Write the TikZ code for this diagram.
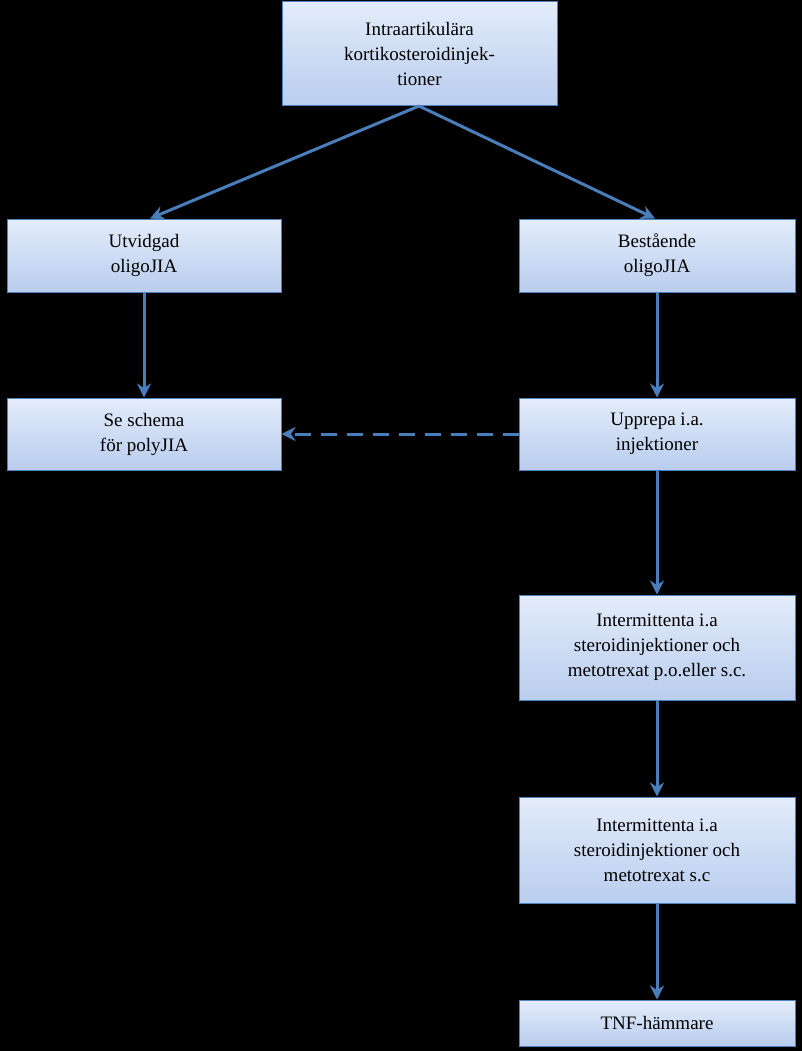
\documentclass[tikz,border=0pt]{standalone}
\usepackage{fontspec}
\setmainfont{Liberation Serif}
\usetikzlibrary{positioning,arrows.meta}
\definecolor{boxline}{HTML}{4F81BD}
\definecolor{arrowblue}{HTML}{4A7EBB}
\definecolor{boxtop}{HTML}{E3ECFA}
\definecolor{boxbot}{HTML}{B9CDEE}
\tikzset{
  stage/.style={draw=boxline, line width=1pt, top color=boxtop, bottom color=boxbot,
    minimum width=274pt, align=center, inner sep=2pt,
    font=\fontsize{19}{25}\selectfont},
  flow/.style={draw=arrowblue, line width=3pt, -{Stealth[length=14pt,width=14pt]}},
}
\begin{document}
\begin{tikzpicture}[x=1pt,y=-1pt]
	\fill[black] (0,0) rectangle (802,1051);
	\useasboundingbox (0,0) rectangle (802,1051);
	\node[stage, minimum width=275pt, minimum height=104pt] (intra) at (419.5,54) {Intraartikulära\\kortikosteroidinjek-\\tioner};
	\node[stage, minimum height=73pt] (utv) at (144,255.5) {Utvidgad\\oligoJIA};
	\node[stage, minimum width=276pt, minimum height=73pt] (best) at (657,255.5) {Bestående\\oligoJIA};
	\node[stage, minimum height=72pt] (poly) at (144,434) {Se schema\\för polyJIA};
	\node[stage, minimum width=276pt, minimum height=72pt] (upp) at (657,434) {Upprepa i.a.\\injektioner};
	\node[stage, minimum width=276pt, minimum height=105pt] (int1) at (657,647.5) {Intermittenta i.a\\steroidinjektioner och\\metotrexat p.o.eller s.c.};
	\node[stage, minimum width=276pt, minimum height=106pt] (int2) at (657,850) {Intermittenta i.a\\steroidinjektioner och\\metotrexat s.c};
	\node[stage, minimum width=276pt, minimum height=46pt] (tnf) at (657,1023) {TNF-hämmare};
	\coordinate (split) at (419,106);
	\draw[flow] (split) -- ([xshift=6pt]utv.north);
	\draw[flow] (split) -- ([xshift=-2pt]best.north);
	\draw[flow] (utv) -- (poly);
	\draw[flow] (best) -- (upp);
	\draw[flow, dashed, dash pattern=on 16pt off 10pt] (upp) -- (poly);
	\draw[flow] (upp) -- (int1);
	\draw[flow] (int1) -- (int2);
	\draw[flow] (int2) -- (tnf);
\end{tikzpicture}
\end{document}
